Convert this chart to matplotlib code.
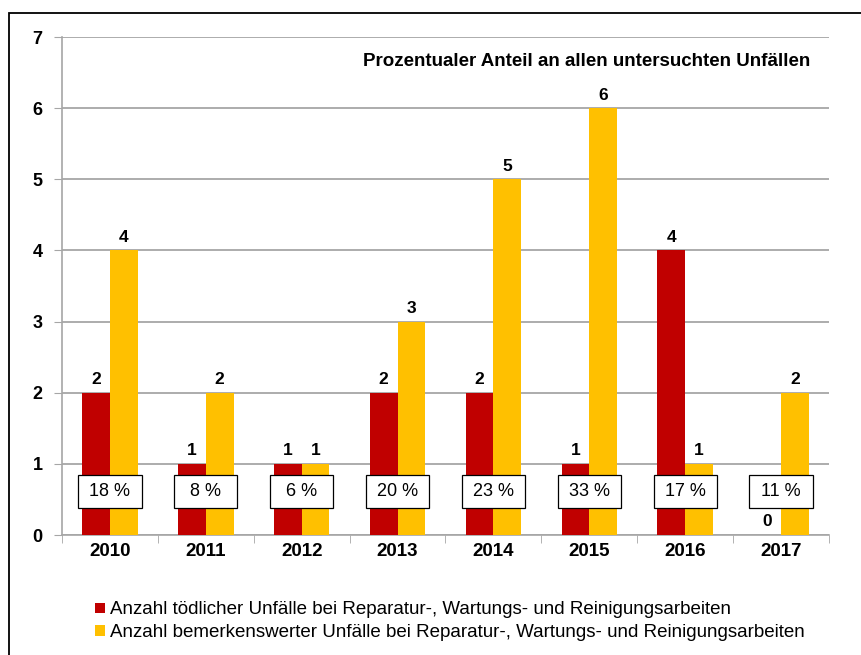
import numpy as np
import matplotlib.pyplot as plt
from matplotlib.patches import Rectangle

plt.rcParams['font.family'] = ['Liberation Sans', 'DejaVu Sans']

########################## Data ##########################

years = ['2010', '2011', '2012', '2013', '2014', '2015', '2016', '2017']
fatal = [2, 1, 1, 2, 2, 1, 4, 0]
notable = [4, 2, 1, 3, 5, 6, 1, 2]
share_labels = ['18 %', '8 %', '6 %', '20 %', '23 %', '33 %', '17 %', '11 %']

label_fatal = 'Anzahl tödlicher Unfälle bei Reparatur-, Wartungs- und Reinigungsarbeiten'
label_notable = 'Anzahl bemerkenswerter Unfälle bei Reparatur-, Wartungs- und Reinigungsarbeiten'
title = 'Prozentualer Anteil an allen untersuchten Unfällen'

red = '#C00000'
yellow = '#FFC000'
grid_col = '#A6A6A6'

########################## Figure ##########################

fig = plt.figure(figsize=(8.62, 6.55), dpi=100)
ax = fig.add_axes([62/862, 1-535/655, 767/862, 498/655])

x = np.arange(len(years))
w = 0.29
b1 = ax.bar(x - w/2, fatal, w, color=red, label=label_fatal, zorder=3)
b2 = ax.bar(x + w/2, notable, w, color=yellow, label=label_notable, zorder=3)

# value labels above bars
for bars in (b1, b2):
    for rect in bars:
        h = rect.get_height()
        ax.annotate(f'{int(h)}', (rect.get_x() + rect.get_width()/2, h),
                    xytext=(0, 4), textcoords='offset points',
                    ha='center', va='bottom', fontsize=12.5, fontweight='bold', zorder=5)

# percentage boxes
box_w, box_lo, box_h = 0.66, 0.38, 0.46
for xi, s in zip(x, share_labels):
    ax.add_patch(Rectangle((xi - box_w/2, box_lo), box_w, box_h, facecolor='white',
                           edgecolor='black', lw=0.9, zorder=6))
    ax.text(xi, box_lo + box_h/2, s, ha='center', va='center', fontsize=13, zorder=7)

ax.text(0.975, 0.95, title, transform=ax.transAxes, ha='right', va='center',
        fontsize=13.5, fontweight='bold')

ax.set_xlim(-0.5, len(years) - 0.5)
ax.set_ylim(0, 7)
ax.set_yticks(range(0, 8))
ax.set_xticks(x)
ax.set_xticklabels(years, fontsize=13.5, fontweight='bold')
ax.tick_params(axis='x', length=0, pad=6)
ax.tick_params(axis='y', length=6, color=grid_col, labelsize=13, pad=8)
for lab in ax.get_yticklabels():
    lab.set_fontweight('bold')

# tick marks between categories
ax.set_xticks(np.arange(-0.5, len(years)), minor=True)
ax.tick_params(axis='x', which='minor', length=6, color=grid_col)

ax.grid(axis='y', color=grid_col, lw=1.3, zorder=0)
for side in ('top', 'right'):
    ax.spines[side].set_visible(False)
for side in ('left', 'bottom'):
    ax.spines[side].set_color(grid_col)
    ax.spines[side].set_linewidth(1.2)

fig.legend(handles=[b1, b2], loc='upper left', bbox_to_anchor=(88/862, 1-594/655),
           frameon=False, fontsize=13.5, handlelength=0.5, handleheight=0.5,
           handletextpad=0.25, labelspacing=0.3, borderaxespad=0)

# outer frame
fig.patches.append(Rectangle((9/862, -0.1), 2, (1-13/655) + 0.1, transform=fig.transFigure,
                             fill=False, edgecolor='black', lw=1.3))

fig.savefig('out.png', dpi=100)
